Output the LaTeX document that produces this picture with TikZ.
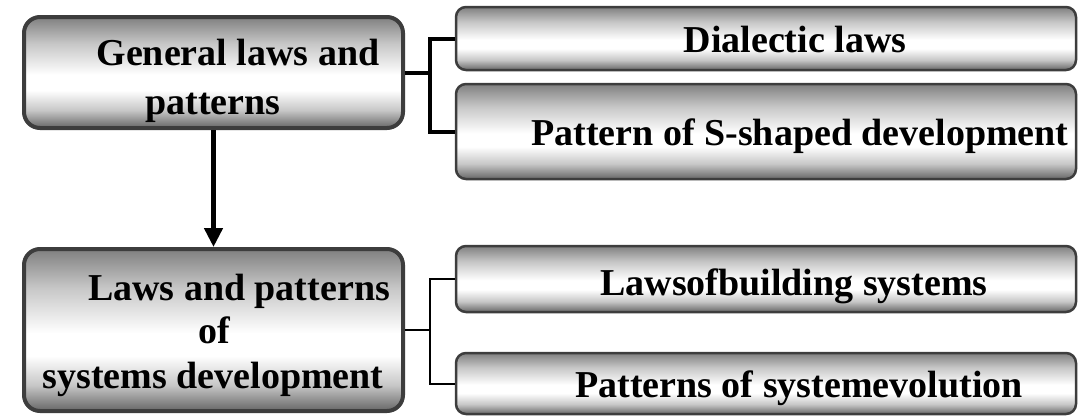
\documentclass[tikz,border=0pt]{standalone}
\usepackage{fontspec}
\setmainfont{Liberation Serif}
\usetikzlibrary{arrows.meta}

% colours of the panel shading and the panel outlines
\definecolor{shadelow}{gray}{0.40}
\definecolor{shademid}{gray}{0.78}
\definecolor{shadehigh}{gray}{0.50}
\definecolor{boxedge}{gray}{0.24}

% gray at the top, a white band a little below the middle, darker gray at the bottom
\pgfdeclareverticalshading{panelshade}{100bp}{%
  color(0bp)=(shadelow); color(25bp)=(shadelow);
  color(33bp)=(shademid); color(42bp)=(white); color(49bp)=(white);
  color(63bp)=(shademid); color(75bp)=(shadehigh); color(100bp)=(shadehigh)}

\begin{document}
\begin{tikzpicture}[x=1pt,y=-1pt,
  mainbox/.style={rectangle, rounded corners=16pt, draw=boxedge, line width=4pt,
    shade, shading=panelshade, minimum width=379pt, inner sep=0pt},
  subbox/.style={rectangle, rounded corners=10pt, draw=boxedge, line width=2.5pt,
    shade, shading=panelshade, minimum width=620pt, inner sep=0pt},
  boxtext/.style={anchor=base, inner sep=0pt, text=black,
    font=\bfseries\fontsize{38}{44}\selectfont},
  thickwire/.style={draw=black, line width=4pt, line join=miter},
  thinwire/.style={draw=black, line width=2pt, line join=miter},
  downarrow/.style={draw=black, line width=4.5pt,
    -{Triangle[width=18pt,length=19pt]}}]

  \useasboundingbox[fill=white] (0,0) rectangle (1089,418);

  % panels
  \node[mainbox, minimum height=111pt] (gen) at (213.5,72.5) {};
  \node[mainbox, minimum height=162pt] (sys) at (213.5,330) {};
  \node[subbox, minimum height=63pt] (dia) at (766,38.5) {};
  \node[subbox, minimum height=95pt] (ssh) at (766,131.5) {};
  \node[subbox, minimum height=66pt] (bld) at (766,279) {};
  \node[subbox, minimum height=61pt] (evo) at (766,383.5) {};

  % panel texts
  \node[boxtext] (genA) at (238,65) {General laws and};
  \node[boxtext] (genB) at (213,114) {patterns};
  \node[boxtext] (sysA) at (239,300) {Laws and patterns};
  \node[boxtext] (sysB) at (214,343) {of};
  \node[boxtext] (sysC) at (213,388) {systems development};
  \node[boxtext] (diaT) at (795,52) {Dialectic laws};
  \node[boxtext] (sshT) at (800,145) {Pattern of S-shaped development};
  \node[boxtext] (bldT) at (794,295) {Lawsofbuilding systems};
  \node[boxtext] (evoT) at (799,397) {Patterns of systemevolution};

  % branching connectors
  \coordinate (jtop) at (430,72.5);
  \coordinate (jbot) at (430,330);
  \draw[thickwire] (gen.east) -- (jtop);
  \draw[thickwire] (dia.west) -| (jtop) |- (ssh.west);
  \draw[thinwire] (sys.east) -- (jbot);
  \draw[thinwire] (bld.west) -| (jbot) |- (evo.west);

  % downward arrow between the two main panels
  \draw[downarrow] (gen.south) -- (sys.north);
\end{tikzpicture}
\end{document}
